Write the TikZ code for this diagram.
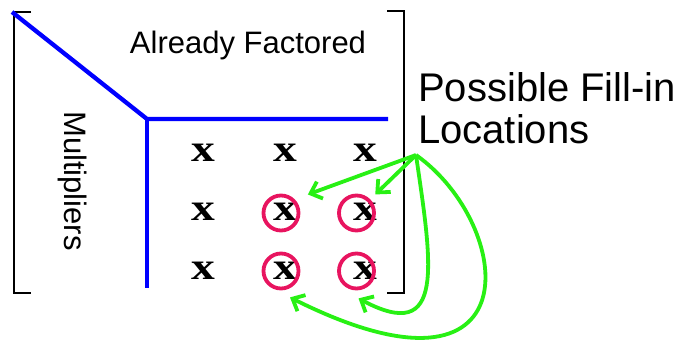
\documentclass[tikz,border=0pt]{standalone}
\usepackage{fontspec}
\usepackage{graphicx}
\setmainfont{Liberation Sans}
\newfontfamily\xfont{Liberation Serif}
\usetikzlibrary{arrows.meta,calc}
\definecolor{fillblue}{RGB}{0,0,255}
\definecolor{ringred}{RGB}{232,20,95}
\definecolor{arrgreen}{RGB}{40,240,20}
\tikzset{
  brk/.style={line width=2.2pt, black},
  blueline/.style={line width=4.3pt, fillblue},
  xmark/.style={inner sep=0pt, font=\xfont\bfseries\fontsize{38}{38}\selectfont},
  ring/.style={circle, draw=ringred, line width=3.8pt, minimum size=35pt, inner sep=0pt},
  arr/.style={draw=arrgreen, line width=3.8pt, -{Straight Barb[length=10pt,width=18pt,line width=3.8pt]}},
  lbl/.style={inner sep=0pt, font=\fontsize{31}{31}\selectfont},
  biglbl/.style={inner sep=0pt, align=left, anchor=north west, font=\fontsize{40}{42}\selectfont}
}
\begin{document}
\begin{tikzpicture}[x=1pt,y=-1pt]
\useasboundingbox (0,0) rectangle (681,340);
% brackets
\draw[brk] (31,12) -- (14,12) -- (14,293) -- (31,293);
\draw[brk] (387,11) -- (404,11) -- (404,293) -- (387,293);
% blue lines
\coordinate (corner) at (147,119);
\draw[blueline] (12,12) -- (corner) -- (388,119);
\draw[blueline] (corner) -- (147,288);
% labels
\node[lbl] (af) at (248,45) {Already Factored};
\node[lbl, rotate=-90] (mult) at (73,181) {Multipliers};
\node[biglbl] (pfl) at (418,72) {Possible Fill-in\\Locations};
% x marks
\foreach \r/\y in {1/153,2/212,3/271}{
  \foreach \c/\x in {1/203,2/285,3/365}{
    \node[xmark] (x\r\c) at (\x,\y) {\scalebox{1.25}[1]{x}};
  }
}
% rings
\node[ring] (c1) at (281,213) {};
\node[ring] (c2) at (356.5,213) {};
\node[ring] (c3) at (281,271) {};
\node[ring] (c4) at (356.5,271) {};
% arrows
\coordinate (src) at (416,155);
\draw[arr, shorten >=14pt] (src) -- (c1.north east);
\draw[arr, shorten >=7pt] (src) -- (c2.north east);
\draw[arr] (src) .. controls (432,265) and (446,345) .. ($(c4.south)+(2,8)$);
\draw[arr] (src) .. controls (515,225) and (535,420) .. ($(c3.south)+(9,7)$);
\end{tikzpicture}
\end{document}
